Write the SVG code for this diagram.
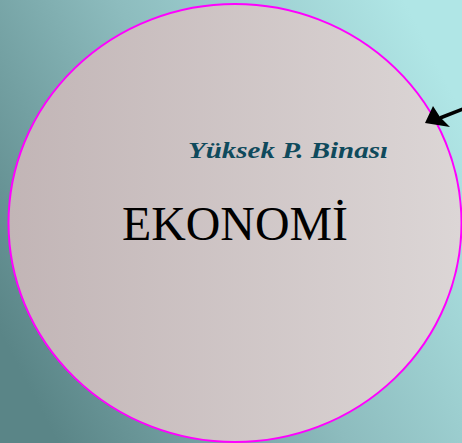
<svg xmlns="http://www.w3.org/2000/svg" width="462" height="443" viewBox="0 0 462 443">
<defs>
<linearGradient id="bg" x1="0" y1="0.75" x2="1" y2="0.25">
<stop offset="0" stop-color="#5a8587"/>
<stop offset="0.5" stop-color="#8dbcbe"/>
<stop offset="1" stop-color="#b0e6e6"/>
</linearGradient>
<linearGradient id="cf" x1="0" y1="0" x2="1" y2="0">
<stop offset="0" stop-color="#c2b5b6"/>
<stop offset="1" stop-color="#dcd6d6"/>
</linearGradient>
</defs>
<style>
.t1{font-family:"Liberation Serif",serif;font-style:italic;font-weight:bold;font-size:23px;fill:#0f4a5c}
.t2{font-family:"Liberation Serif",serif;font-size:48px;fill:#000}
</style>
<rect width="462" height="443" fill="url(#bg)"/>
<g id="economy">
<ellipse cx="235" cy="223" rx="226.5" ry="219" fill="url(#cf)" stroke="#ff00ff" stroke-width="2"/>
<text class="t1" x="188" y="158" textLength="200" lengthAdjust="spacingAndGlyphs">Yüksek P. Binası</text>
<text class="t2" x="122" y="240" textLength="226" lengthAdjust="spacingAndGlyphs">EKONOMİ</text>
</g>
<g id="connectors">
<line x1="463" y1="109" x2="440" y2="118" stroke="#000" stroke-width="3.5"/>
<path d="M425,123 L433,106 L440,117 L450,127 z" fill="#000"/>
</g>
</svg>
